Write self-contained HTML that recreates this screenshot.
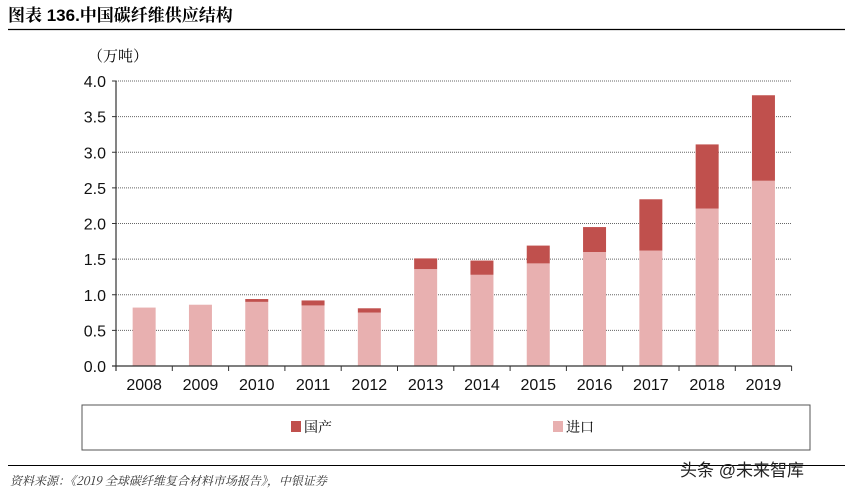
<!DOCTYPE html>
<html><head><meta charset="utf-8"><style>
body{margin:0;width:845px;height:497px;background:#fff;overflow:hidden;font-family:"Liberation Sans","Noto Sans CJK SC",sans-serif;}
</style></head><body>
<svg width="845" height="497" xmlns="http://www.w3.org/2000/svg">
<text x="8" y="21" font-size="17" font-weight="bold" font-family="'Liberation Sans','Noto Serif CJK SC',serif">图表 136.中国碳纤维供应结构</text>
<line x1="8" y1="29.5" x2="845" y2="29.5" stroke="#000" stroke-width="1.2"/>
<text x="88" y="61" font-size="15" font-family="'Noto Serif CJK SC',serif">（万吨）</text>
<g id="grid"></g><g id="bars"></g><g id="axes"></g>
<rect x="82" y="405" width="728" height="45" fill="none" stroke="#555" stroke-width="1"/>
<rect x="291" y="421" width="10" height="11" fill="#c0504d"/>
<text x="304" y="432" font-size="14" font-family="'Noto Serif CJK SC',serif">国产</text>
<rect x="553" y="421" width="10" height="11" fill="#e8b0b0"/>
<text x="566" y="432" font-size="14" font-family="'Noto Serif CJK SC',serif">进口</text>
<line x1="8" y1="465.5" x2="845" y2="465.5" stroke="#000" stroke-width="1"/>
<text x="10" y="485" font-size="12" font-style="italic" font-family="'Noto Serif CJK SC',serif" fill="#333">资料来源：《2019 全球碳纤维复合材料市场报告》，中银证券</text>
<text x="680" y="476" font-size="17" fill="#222">头条 @未来智库</text>
</svg>
<script>
const years=["2008","2009","2010","2011","2012","2013","2014","2015","2016","2017","2018","2019"];
const importVals=[0.82,0.86,0.90,0.85,0.75,1.36,1.28,1.44,1.60,1.62,2.21,2.60];
const domesticVals=[0,0,0.04,0.07,0.06,0.15,0.20,0.25,0.35,0.72,0.90,1.20];
const yTicks=["0.0","0.5","1.0","1.5","2.0","2.5","3.0","3.5","4.0"];
const NS="http://www.w3.org/2000/svg";
const X0=116,BW=56.3,Y0=366,PX=71.25,XR=X0+BW*12;
const y=v=>Y0-v*PX, xc=i=>X0+BW*(i+0.5);
function mk(t,a,p){const e=document.createElementNS(NS,t);for(const k in a)e.setAttribute(k,a[k]);p.appendChild(e);return e;}
const G=document.getElementById('grid'),B=document.getElementById('bars'),A=document.getElementById('axes');
yTicks.forEach(t=>{const v=parseFloat(t);
 if(v>0){const l=mk('line',{x1:X0,x2:XR,y1:y(v),y2:y(v),stroke:'#666','stroke-dasharray':'1,1'},G);
 
 }
 const tk=mk('line',{x1:X0-4,x2:X0,y1:y(v),y2:y(v),stroke:'#333'},A);
 
 
 const tx=mk('text',{x:X0-10,y:y(v)+6,'font-size':16,'text-anchor':'end',fill:'#111'},A);tx.textContent=t;
 
 
});
years.forEach((yr,i)=>{const w=23,x=xc(i)-w/2;
 const r1=mk('rect',{x:x,y:y(importVals[i]),width:w,height:importVals[i]*PX,fill:'#e8b0b0'},B);
 
 
 if(domesticVals[i]>0){const r2=mk('rect',{x:x,y:y(importVals[i]+domesticVals[i]),width:w,height:domesticVals[i]*PX,fill:'#c0504d'},B);
 
 }
 const tk=mk('line',{x1:X0+BW*(i+1),x2:X0+BW*(i+1),y1:Y0,y2:Y0+5,stroke:'#333'},A);
 
 
 const tx=mk('text',{x:xc(i),y:Y0+24,'font-size':16,'text-anchor':'middle',fill:'#111'},A);tx.textContent=yr;
 
 
});
const ya=mk('line',{x1:X0,x2:X0,y1:y(4),y2:Y0+5,stroke:'#333','stroke-width':1.2},A);


const xa=mk('line',{x1:X0-4,x2:XR,y1:Y0,y2:Y0,stroke:'#333','stroke-width':1.2},A);


</script>
</body></html>
